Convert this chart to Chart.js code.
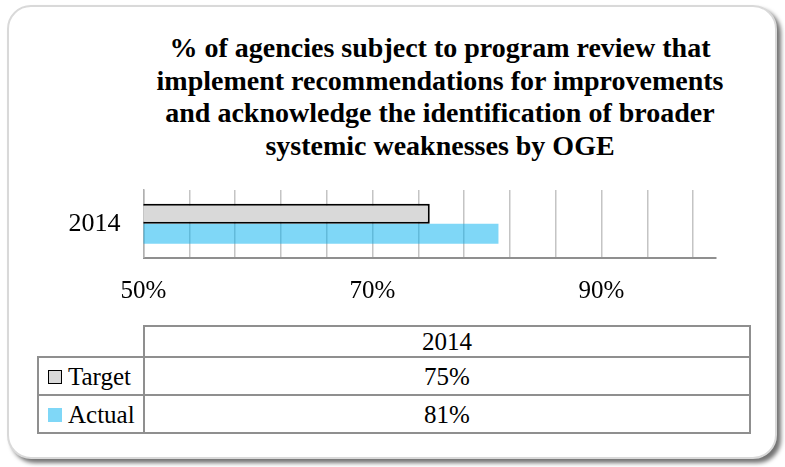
<!DOCTYPE html>
<html>
<head>
<meta charset="utf-8">
<script src="https://cdn.jsdelivr.net/npm/chart.js@4.4.1/dist/chart.umd.min.js"></script>
<style>
    html, body {
        margin: 0;
        padding: 0;
        width: 785px;
        height: 467px;
        background: #fff;
        overflow: hidden;
        font-family: "Liberation Serif", "Times New Roman", serif;
    }
    .frame {
        position: absolute;
        left: 7px;
        top: 5px;
        width: 770px;
        height: 454px;
        box-sizing: border-box;
        border: 2px solid #d9d9d9;
        border-radius: 24px;
        box-shadow: 4px 4px 4px rgba(0, 0, 0, 0.55);
        background: #fff;
    }
    .title {
        position: absolute;
        left: 100px;
        top: 32px;
        width: 680px;
        text-align: center;
        font-family: "Liberation Serif", "Times New Roman", serif;
        font-weight: bold;
        font-size: 28px;
        line-height: 32.5px;
        white-space: nowrap;
        color: #000;
    }
    .chart-box {
        position: absolute;
        left: 0;
        top: 170px;
        width: 785px;
        height: 155px;
    }
    .data-table {
        position: absolute;
        left: 37px;
        top: 325px;
        border-collapse: collapse;
        font-family: "Liberation Serif", "Times New Roman", serif;
        font-size: 25px;
        color: #000;
    }
    .data-table td {
        border: 2px solid #8f8f8f;
        padding: 0;
        line-height: 1;
    }
    .data-table td.corner {
        border-top: none;
        border-left: none;
    }
    .data-table td.name {
        width: 106px;
        padding-left: 9px;
        box-sizing: border-box;
        white-space: nowrap;
    }
    .data-table td.value {
        width: 604px;
        text-align: center;
    }
    .data-table tr.head td { height: 29px; }
    .data-table tr.row td { height: 36px; }
    .swatch {
        display: inline-block;
        width: 14px;
        height: 14px;
        box-sizing: border-box;
        margin-right: 6px;
        vertical-align: 1px;
    }
</style>
</head>
<body>
<div class="frame"></div>
<div class="title" id="title"></div>
<div class="chart-box"><canvas id="review-chart"></canvas></div>
<table class="data-table" id="data-table"></table>

<script>
/* data */
const titleLines = [
    '% of agencies subject to program review that',
    'implement recommendations for improvements',
    'and acknowledge the identification of broader',
    'systemic weaknesses by OGE'
];
const years = ['2014'];
const seriesNames = ['Target', 'Actual'];
const targetValues = [75];
const actualValues = [81];
const axisMin = 50;
const axisMax = 100;
const gridStep = 4;
const labelledTicks = [50, 70, 90];
/**/

const seriesStyle = {
    Target: { fill: '#d9d9d9', border: '#000000', borderWidth: 2 },
    Actual: { fill: 'rgba(0, 176, 240, 0.5)', border: 'rgba(0, 0, 0, 0)', borderWidth: 0 }
};

const seriesValues = [targetValues, actualValues];
const fontName = '"Liberation Serif", "Times New Roman", serif';

document.getElementById('title').innerHTML = titleLines.join('<br>');

// gridlines every 4% starting at the axis minimum, plus the axis end
function gridTicks(axis) {
    let ticks = [];
    for (let v = axisMin; v < axisMax; v += gridStep) {
        ticks.push({ value: v });
    }
    ticks.push({ value: axisMax });
    axis.ticks = ticks;
}

let reviewChart = {
    type: 'bar',
    data: {
        labels: years,
        datasets: seriesNames.map((name, i) => ({
            label: name,
            data: seriesValues[i],
            backgroundColor: seriesStyle[name].fill,
            borderColor: seriesStyle[name].border,
            borderWidth: seriesStyle[name].borderWidth,
            categoryPercentage: 0.59,
            barPercentage: 1
        }))
    },
    options: {
        indexAxis: 'y',
        responsive: true,
        maintainAspectRatio: false,
        animation: false,
        layout: {
            padding: { top: 20, right: 69, bottom: 0, left: 0 }
        },
        plugins: {
            legend: { display: false },
            title: { display: false },
            tooltip: { enabled: false }
        },
        scales: {
            x: {
                min: axisMin,
                max: axisMax,
                afterBuildTicks: gridTicks,
                border: { display: true, color: '#8f8f8f', width: 2 },
                grid: {
                    drawTicks: false,
                    lineWidth: 1.5,
                    color: (ctx) => ctx.tick && ctx.tick.value === axisMax ? 'rgba(0,0,0,0)' : '#c4c4c4'
                },
                ticks: {
                    autoSkip: false,
                    maxRotation: 0,
                    padding: 19,
                    color: '#000',
                    font: { family: fontName, size: 25 },
                    callback: (value) => labelledTicks.includes(value) ? value + '%' : ''
                }
            },
            y: {
                border: { display: true, color: '#b0b0b0', width: 1.5 },
                grid: { display: false, drawTicks: false },
                afterFit: (scale) => {
                    scale.width = 143.5;
                    scale.paddingTop = 0;
                    scale.paddingBottom = 0;
                },
                ticks: {
                    padding: 23,
                    color: '#000',
                    font: { family: fontName, size: 26 }
                }
            }
        }
    }
};

/* data table under the chart */
function buildTable() {
    let table = document.getElementById('data-table');
    let head = '<tr class="head"><td class="corner"></td>';
    years.forEach(y => { head += '<td class="value">' + y + '</td>'; });
    head += '</tr>';
    let rows = '';
    seriesNames.forEach((name, i) => {
        let st = seriesStyle[name];
        let swatchBorder = st.borderWidth ? '1.5px solid ' + st.border : 'none';
        rows += '<tr class="row"><td class="name"><span class="swatch" style="background:' + st.fill +
            ';border:' + swatchBorder + '"></span>' + name + '</td>';
        seriesValues[i].forEach(v => { rows += '<td class="value">' + v + '%</td>'; });
        rows += '</tr>';
    });
    table.innerHTML = head + rows;
}

window.onload = function() {
    buildTable();
    new Chart(document.getElementById('review-chart'), reviewChart);
}
</script>
</body>
</html>
